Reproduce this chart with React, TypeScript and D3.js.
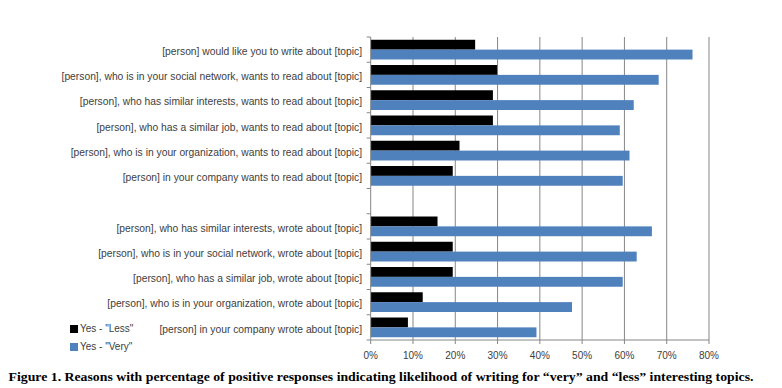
import * as d3 from 'd3';

const categories = [
  '[person] would like you to write about [topic]',
  '[person], who is in your social network, wants to read about [topic]',
  '[person], who has similar interests, wants to read about [topic]',
  '[person], who has a similar job, wants to read about [topic]',
  '[person], who is in your organization, wants to read about [topic]',
  '[person] in your company wants to read about [topic]',
  '',
  '[person], who has similar interests, wrote about [topic]',
  '[person], who is in your social network, wrote about [topic]',
  '[person], who has a similar job, wrote about [topic]',
  '[person], who is in your organization, wrote about [topic]',
  '[person] in your company wrote about [topic]',
];

const lessValues = [24.7, 29.9, 28.9, 28.9, 21.0, 19.4, null, 15.8, 19.4, 19.4, 12.3, 8.8];
const veryValues = [76.1, 68.1, 62.2, 58.9, 61.2, 59.6, null, 66.5, 62.9, 59.6, 47.6, 39.2];

const seriesNames = ['Yes - "Less"', 'Yes - "Very"'];
const seriesColors = ['#000000', '#4F81BD'];
const xTicks = [0, 10, 20, 30, 40, 50, 60, 70, 80];

const caption =
  'Figure 1. Reasons with percentage of positive responses indicating likelihood of writing for \u201cvery\u201d and \u201cless\u201d interesting topics.';

const W = 782;
const H = 388;
const PLOT = { left: 370.7, right: 709, top: 37, bottom: 340 };
const AXIS_GRAY = '#868686';
const TEXT_GRAY = '#404040';
const FONT = '"Liberation Sans", Arial, sans-serif';

export default function App() {
  const x = d3.scaleLinear().domain([0, 80]).range([PLOT.left, PLOT.right]);
  const y = d3
    .scaleBand<number>()
    .domain(d3.range(categories.length))
    .range([PLOT.top, PLOT.bottom]);
  const inner = d3
    .scaleBand<number>()
    .domain([0, 1])
    .range([0, y.bandwidth()])
    .paddingOuter(0.28)
    .paddingInner(0);

  const series = [lessValues, veryValues];

  return (
    <svg
      width={W}
      height={H}
      style={{ position: 'absolute', left: 0, top: 0, background: '#fff' }}
    >
      {/* gridlines */}
      {xTicks.slice(1).map((t) => (
        <line
          key={'g' + t}
          x1={x(t)}
          x2={x(t)}
          y1={PLOT.top}
          y2={PLOT.bottom}
          stroke={AXIS_GRAY}
          strokeWidth={1}
        />
      ))}

      {/* bars */}
      {series.map((vals, si) =>
        vals.map((v, i) =>
          v == null ? null : (
            <rect
              key={`b${si}-${i}`}
              x={x(0)}
              y={(y(i) ?? 0) + (inner(si) ?? 0)}
              width={x(v) - x(0)}
              height={inner.bandwidth()}
              fill={seriesColors[si]}
            />
          )
        )
      )}

      {/* y axis */}
      <line x1={x(0)} x2={x(0)} y1={PLOT.top} y2={PLOT.bottom} stroke={AXIS_GRAY} />
      {d3.range(categories.length + 1).map((i) => {
        const yy = i < categories.length ? y(i)! : PLOT.bottom;
        return (
          <line key={'yt' + i} x1={x(0) - 4} x2={x(0)} y1={yy} y2={yy} stroke={AXIS_GRAY} />
        );
      })}

      {/* x axis */}
      <line x1={x(0)} x2={x(80)} y1={PLOT.bottom} y2={PLOT.bottom} stroke={AXIS_GRAY} />
      {xTicks.map((t) => (
        <g key={'xt' + t}>
          <line x1={x(t)} x2={x(t)} y1={PLOT.bottom} y2={PLOT.bottom + 4} stroke={AXIS_GRAY} />
          <text
            x={x(t)}
            y={356}
            textAnchor="middle"
            dominantBaseline="middle"
            fontFamily={FONT}
            fontSize={10}
            fill={TEXT_GRAY}
          >
            {t}%
          </text>
        </g>
      ))}

      {/* category labels */}
      {categories.map((c, i) => (
        <text
          key={'c' + i}
          x={362}
          y={(y(i) ?? 0) + y.bandwidth() / 2 + 2.5}
          textAnchor="end"
          dominantBaseline="middle"
          fontFamily={FONT}
          fontSize={10.3}
          fill={TEXT_GRAY}
        >
          {c}
        </text>
      ))}

      {/* legend */}
      {seriesNames.map((s, i) => (
        <g key={'l' + i} transform={`translate(70, ${325 + i * 18})`}>
          <rect x={0} y={0} width={8} height={8} fill={seriesColors[i]} />
          <text
            x={10}
            y={4.5}
            dominantBaseline="middle"
            fontFamily={FONT}
            fontSize={10}
            fill={TEXT_GRAY}
          >
            {s}
          </text>
        </g>
      ))}

      {/* caption */}
      <text
        x={W / 2 - 10}
        y={381}
        textAnchor="middle"
        fontFamily='"Liberation Serif", "Times New Roman", serif'
        fontWeight="bold"
        fontSize={12.5}
        textLength={745}
        lengthAdjust="spacingAndGlyphs"
        fill="#000"
      >
        {caption}
      </text>
    </svg>
  );
}
